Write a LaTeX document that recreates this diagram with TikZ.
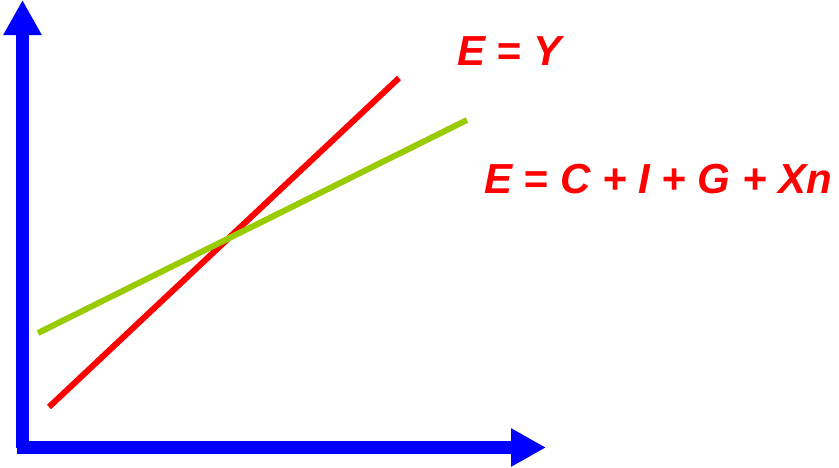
\documentclass[tikz,border=0pt]{standalone}
\usepackage{fontspec}
\setmainfont{Liberation Sans}
\usetikzlibrary{arrows.meta}
\definecolor{linegreen}{RGB}{153,204,0}

\tikzset{
  axis/.style={blue, line width=12.5pt, -{Triangle[length=35pt,width=36pt]}},
  curve/.style={line width=6pt},
  eqlabel/.style={red, inner sep=0pt, anchor=base west, font=\fontsize{42}{50}\selectfont\bfseries\itshape}
}

\begin{document}
\begin{tikzpicture}[x=1pt,y=-1pt]
      \useasboundingbox[fill=white] (0,0) rectangle (839,467);
      % axes
      \coordinate (origin) at (22.5,447.5);
      \coordinate (ytop) at (22.5,0);
      \coordinate (xend) at (546,447.5);
      \draw[axis] (origin) -- (ytop);
      \draw[axis] ([xshift=-6pt]origin) -- (xend);
      % lines
      \coordinate (ya) at (49,407);
      \coordinate (yb) at (399,78);
      \coordinate (ea) at (38,333);
      \coordinate (eb) at (467,120);
      \draw[curve, red] (ya) -- (yb);
      \draw[curve, linegreen] (ea) -- (eb);
      % labels
      \node[eqlabel] (eyl) at (457,65) {E = Y};
      \node[eqlabel] (ael) at (484,193) {E = C + I + G + Xn};
    \end{tikzpicture}
\end{document}
